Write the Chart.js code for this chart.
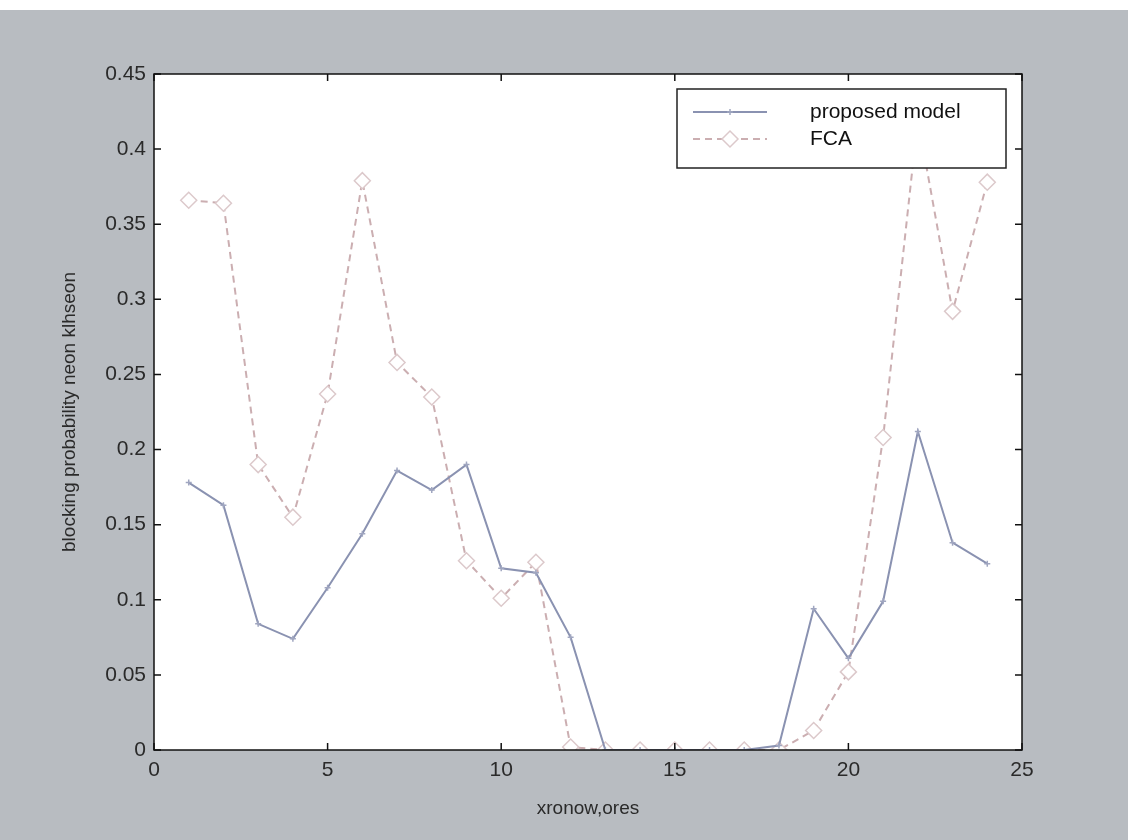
<!DOCTYPE html>
<html>
<head>
<meta charset="utf-8">
<script src="https://cdn.jsdelivr.net/npm/chart.js@4.4.1/dist/chart.umd.min.js"></script>
<style>
  body { margin: 0; background: #b8bcc1; }
  canvas { display: block; }
</style>
</head>
<body>
<canvas id="blockingChart" width="1128" height="840"></canvas>
<script>
// ore (x) and blocking probability for both models
const hours = [1, 2, 3, 4, 5, 6, 7, 8, 9, 10, 11, 12, 13, 14, 15, 16, 17, 18, 19, 20, 21, 22, 23, 24];
const proposedModel = [0.178, 0.163, 0.084, 0.074, 0.108, 0.144, 0.186, 0.173, 0.190, 0.121, 0.118, 0.075,
    0, 0, 0, 0, 0, 0.003, 0.094, 0.061, 0.099, 0.212, 0.138, 0.124];
const fca = [0.366, 0.364, 0.190, 0.155, 0.237, 0.379, 0.258, 0.235, 0.126, 0.101, 0.125, 0.002,
    0, 0, 0, 0, 0, 0, 0.013, 0.052, 0.208, 0.420, 0.292, 0.378];
const seriesNames = ['proposed model', 'FCA'];
const xTicks = [0, 5, 10, 15, 20, 25];
const yTicks = [0, 0.05, 0.1, 0.15, 0.2, 0.25, 0.3, 0.35, 0.4, 0.45];

const FONT = '"Liberation Sans", Arial, sans-serif';
const blueLine = '#8a92b1';
const pinkLine = '#cbaeb1';

function toPoints(ys) {
    return hours.map((h, i) => ({ x: h, y: ys[i] }));
}

// gray page + white plot area, like the matlab figure
const backgroundPlugin = {
    id: 'background',
    beforeDraw(chart) {
        const ctx = chart.ctx;
        const a = chart.chartArea;
        ctx.save();
        ctx.fillStyle = '#b8bcc1';
        ctx.fillRect(0, 0, chart.width, chart.height);
        ctx.fillStyle = '#ffffff';
        ctx.fillRect(0, 0, chart.width, 10);
        ctx.fillRect(a.left, a.top, a.right - a.left, a.bottom - a.top);
        ctx.restore();
    }
};

// box + inward ticks on all four sides, then the legend on top
const frameLegendPlugin = {
    id: 'frameLegend',
    afterDraw(chart) {
        const ctx = chart.ctx;
        const a = chart.chartArea;
        const xs = chart.scales.x;
        const ys = chart.scales.y;
        const tl = 7;
        ctx.save();
        ctx.strokeStyle = '#111';
        ctx.lineWidth = 1.5;
        ctx.strokeRect(a.left, a.top, a.right - a.left, a.bottom - a.top);
        ctx.beginPath();
        xTicks.forEach(v => {
            const px = xs.getPixelForValue(v);
            ctx.moveTo(px, a.bottom); ctx.lineTo(px, a.bottom - tl);
            ctx.moveTo(px, a.top); ctx.lineTo(px, a.top + tl);
        });
        yTicks.forEach(v => {
            const py = ys.getPixelForValue(v);
            ctx.moveTo(a.left, py); ctx.lineTo(a.left + tl, py);
            ctx.moveTo(a.right, py); ctx.lineTo(a.right - tl, py);
        });
        ctx.stroke();

        // legend
        const bx = 677, by = 89, bw = 329, bh = 79;
        ctx.fillStyle = '#ffffff';
        ctx.fillRect(bx, by, bw, bh);
        ctx.strokeStyle = '#222';
        ctx.lineWidth = 1.5;
        ctx.strokeRect(bx, by, bw, bh);

        const rows = [112, 139];
        chart.data.datasets.forEach((ds, i) => {
            const y = rows[i];
            ctx.strokeStyle = ds.borderColor;
            ctx.lineWidth = 2;
            ctx.setLineDash(ds.borderDash || []);
            ctx.beginPath();
            ctx.moveTo(693, y);
            ctx.lineTo(767, y);
            ctx.stroke();
            ctx.setLineDash([]);
            ctx.strokeStyle = ds.pointBorderColor;
            ctx.fillStyle = ds.pointBackgroundColor || ds.pointBorderColor;
            ctx.lineWidth = ds.pointBorderWidth;
            Chart.helpers.drawPoint(ctx, {
                pointStyle: ds.pointStyle,
                radius: ds.pointRadius,
                rotation: 0,
                borderWidth: ds.pointBorderWidth
            }, 730, y);
            ctx.fillStyle = '#111';
            ctx.font = '21px ' + FONT;
            ctx.textBaseline = 'middle';
            ctx.textAlign = 'left';
            ctx.fillText(ds.label, 810, y);
        });
        ctx.restore();
    }
};

const ctx = document.getElementById('blockingChart').getContext('2d');

new Chart(ctx, {
    type: 'line',
    data: {
        datasets: [
            {
                label: seriesNames[0],
                data: toPoints(proposedModel),
                borderColor: blueLine,
                backgroundColor: blueLine,
                borderWidth: 2,
                pointStyle: 'cross',
                pointRadius: 3,
                pointBackgroundColor: '#a0a6c0',
                pointBorderColor: '#a0a6c0',
                pointBorderWidth: 1.5,
                tension: 0
            },
            {
                label: seriesNames[1],
                data: toPoints(fca),
                borderColor: pinkLine,
                backgroundColor: '#ffffff',
                borderWidth: 2,
                borderDash: [7, 5],
                pointStyle: 'rectRot',
                pointRadius: 8,
                pointBackgroundColor: '#ffffff',
                pointBorderColor: '#dcc9cb',
                pointBorderWidth: 1.5,
                tension: 0
            }
        ]
    },
    options: {
        responsive: false,
        animation: false,
        layout: { padding: { top: 74, right: 106, left: 0, bottom: 0 } },
        plugins: {
            legend: { display: false },
            tooltip: { enabled: false }
        },
        scales: {
            x: {
                type: 'linear',
                min: 0,
                max: 25,
                afterBuildTicks: s => { s.ticks = xTicks.map(v => ({ value: v })); },
                afterFit: s => { s.height = 90; s.paddingLeft = 0; s.paddingRight = 0; },
                grid: { drawOnChartArea: false, drawTicks: false },
                border: { display: false },
                ticks: {
                    color: '#2a2a2a',
                    padding: 8,
                    maxRotation: 0,
                    font: { family: FONT, size: 21 }
                },
                title: {
                    display: true,
                    text: 'xronow,ores',
                    color: '#2a2a2a',
                    padding: { top: 0, bottom: 20 },
                    font: { family: FONT, size: 19 }
                }
            },
            y: {
                min: 0,
                max: 0.45,
                afterBuildTicks: s => { s.ticks = yTicks.map(v => ({ value: v })); },
                afterFit: s => { s.width = 154; s.paddingTop = 0; s.paddingBottom = 0; },
                grid: { drawOnChartArea: false, drawTicks: false },
                border: { display: false },
                ticks: {
                    color: '#2a2a2a',
                    padding: 8,
                    font: { family: FONT, size: 21 },
                    callback: v => String(Math.round(v * 100) / 100)
                },
                title: {
                    display: true,
                    text: 'blocking probability neon klhseon',
                    color: '#2a2a2a',
                    padding: { top: 58, bottom: 0 },
                    font: { family: FONT, size: 19 }
                }
            }
        }
    },
    plugins: [backgroundPlugin, frameLegendPlugin]
});
</script>
</body>
</html>
